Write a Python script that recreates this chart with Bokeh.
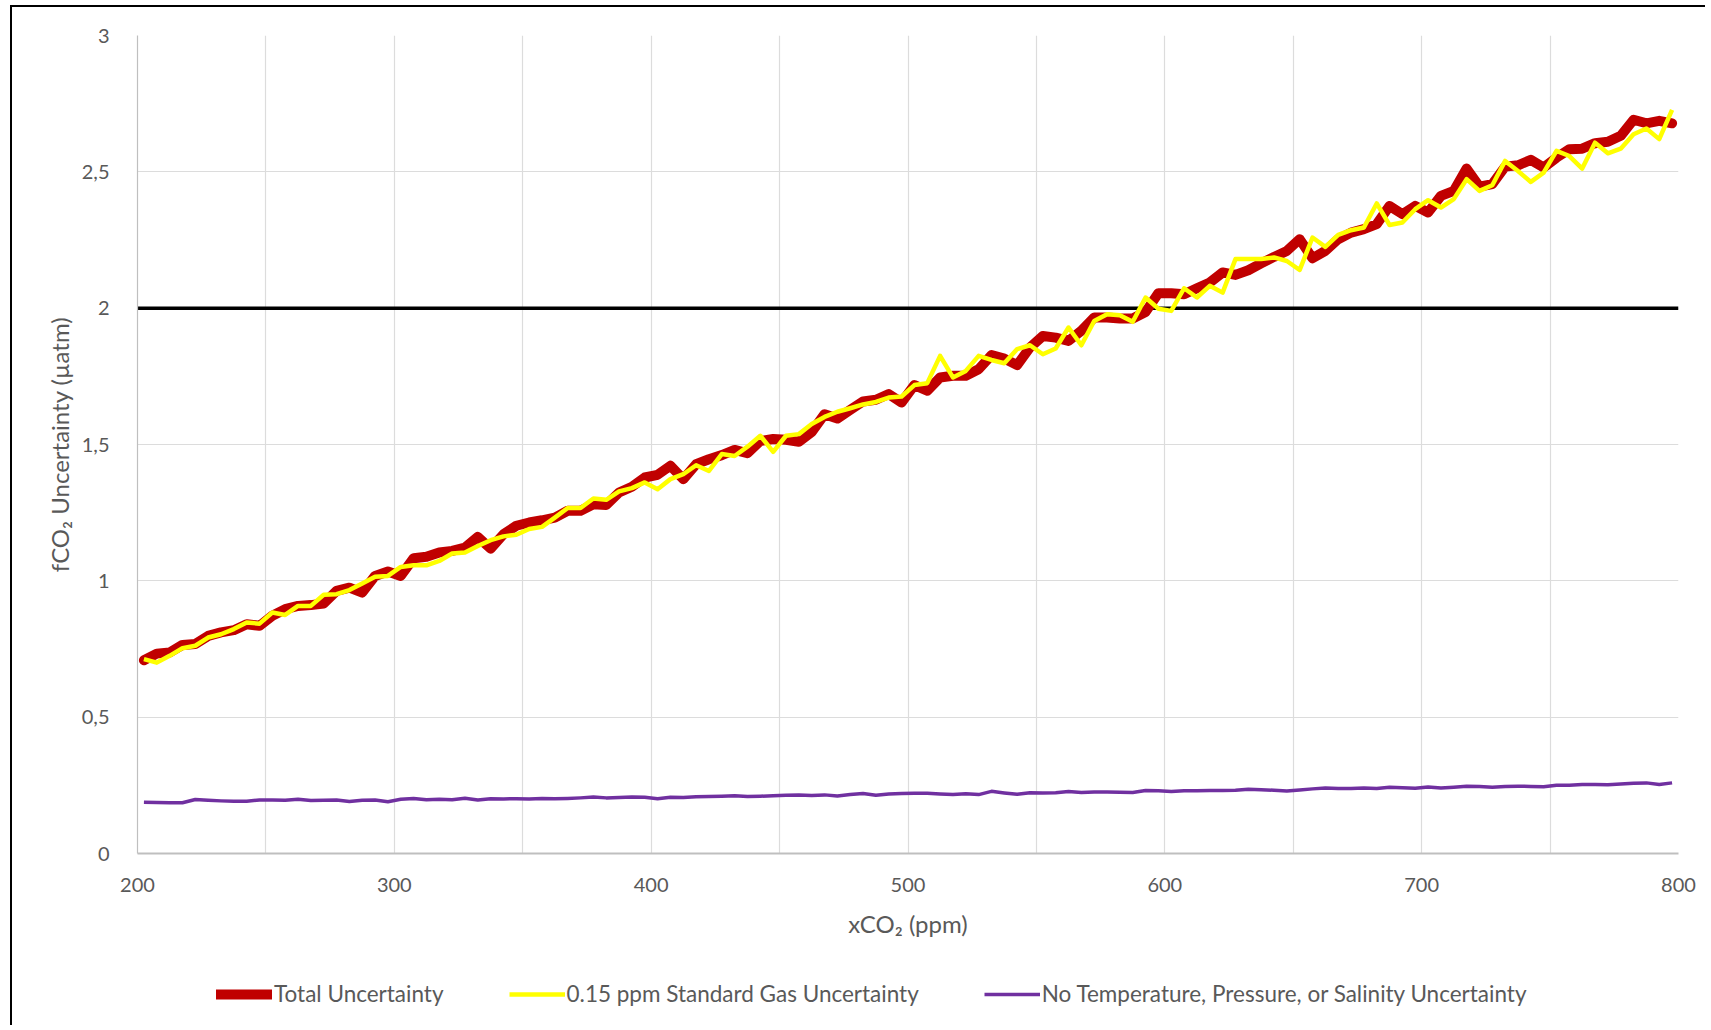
from bokeh.plotting import figure
from bokeh.layouts import column
from bokeh.models import (FixedTicker, Legend, LegendItem, Range1d,
                          CustomJSTickFormatter)
from bokeh.embed import file_html
from bokeh.resources import INLINE

# xCO2 sample points (ppm), every 5 ppm
xco2 = [202.5 + 5 * k for k in range(120)]

total_unc = [
    0.709, 0.733, 0.737, 0.765, 0.768, 0.798, 0.811, 0.819, 0.841, 0.835,
    0.872, 0.896, 0.908, 0.911, 0.917, 0.963, 0.975, 0.957, 1.018, 1.034,
    1.018, 1.083, 1.088, 1.104, 1.110, 1.122, 1.161, 1.118, 1.171, 1.202,
    1.214, 1.222, 1.232, 1.257, 1.257, 1.281, 1.278, 1.324, 1.345, 1.379,
    1.389, 1.422, 1.373, 1.428, 1.446, 1.461, 1.480, 1.468, 1.513, 1.520,
    1.517, 1.510, 1.546, 1.611, 1.595, 1.627, 1.658, 1.664, 1.685, 1.654,
    1.718, 1.697, 1.746, 1.752, 1.752, 1.776, 1.828, 1.815, 1.791, 1.856,
    1.898, 1.892, 1.880, 1.917, 1.966, 1.966, 1.962, 1.962, 1.986, 2.055,
    2.055, 2.051, 2.073, 2.094, 2.131, 2.122, 2.139, 2.164, 2.188, 2.210,
    2.253, 2.183, 2.210, 2.253, 2.277, 2.290, 2.308, 2.375, 2.345, 2.375,
    2.351, 2.412, 2.430, 2.512, 2.446, 2.455, 2.519, 2.524, 2.544, 2.516,
    2.552, 2.583, 2.585, 2.605, 2.610, 2.632, 2.691, 2.678, 2.687, 2.678,
]

std_gas_unc = [
    0.713, 0.700, 0.725, 0.753, 0.762, 0.792, 0.804, 0.823, 0.847, 0.843,
    0.884, 0.875, 0.908, 0.908, 0.949, 0.951, 0.966, 0.990, 1.015, 1.018,
    1.051, 1.057, 1.057, 1.073, 1.100, 1.104, 1.128, 1.149, 1.163, 1.169,
    1.190, 1.198, 1.232, 1.267, 1.267, 1.302, 1.297, 1.328, 1.340, 1.361,
    1.336, 1.373, 1.391, 1.424, 1.403, 1.465, 1.458, 1.492, 1.532, 1.473,
    1.532, 1.538, 1.575, 1.601, 1.620, 1.633, 1.647, 1.656, 1.672, 1.676,
    1.718, 1.725, 1.825, 1.746, 1.770, 1.825, 1.810, 1.798, 1.850, 1.864,
    1.831, 1.852, 1.929, 1.864, 1.953, 1.978, 1.974, 1.950, 2.039, 1.998,
    1.990, 2.073, 2.039, 2.082, 2.057, 2.180, 2.180, 2.180, 2.186, 2.173,
    2.140, 2.259, 2.225, 2.269, 2.286, 2.296, 2.384, 2.305, 2.314, 2.363,
    2.396, 2.369, 2.400, 2.473, 2.430, 2.451, 2.540, 2.503, 2.463, 2.497,
    2.577, 2.558, 2.512, 2.607, 2.568, 2.585, 2.638, 2.659, 2.620, 2.727,
]

no_tps_unc = [
    0.188, 0.187, 0.186, 0.186, 0.198, 0.195, 0.193, 0.192, 0.192, 0.196,
    0.196, 0.195, 0.199, 0.194, 0.195, 0.196, 0.191, 0.195, 0.196, 0.190,
    0.199, 0.202, 0.197, 0.199, 0.197, 0.203, 0.196, 0.201, 0.200, 0.201,
    0.200, 0.202, 0.201, 0.202, 0.204, 0.207, 0.204, 0.205, 0.207, 0.206,
    0.201, 0.206, 0.205, 0.208, 0.209, 0.210, 0.212, 0.209, 0.210, 0.212,
    0.214, 0.215, 0.213, 0.215, 0.211, 0.216, 0.220, 0.214, 0.218, 0.220,
    0.221, 0.221, 0.218, 0.216, 0.219, 0.216, 0.228, 0.222, 0.217, 0.223,
    0.222, 0.223, 0.227, 0.224, 0.226, 0.226, 0.225, 0.224, 0.231, 0.230,
    0.227, 0.230, 0.230, 0.231, 0.231, 0.232, 0.236, 0.234, 0.232, 0.229,
    0.233, 0.237, 0.240, 0.238, 0.238, 0.240, 0.238, 0.243, 0.241, 0.239,
    0.244, 0.240, 0.243, 0.247, 0.246, 0.243, 0.246, 0.247, 0.246, 0.245,
    0.250, 0.250, 0.253, 0.253, 0.252, 0.255, 0.258, 0.259, 0.253, 0.259,
]

# 2 µatm target line
target_x = [200, 800]
target_y = [2.0, 2.0]

x_ticks = [200, 300, 400, 500, 600, 700, 800]
x_grid = [200, 250, 300, 350, 400, 450, 500, 550, 600, 650, 700, 750, 800]
y_ticks = [0, 0.5, 1, 1.5, 2, 2.5, 3]

series_labels = [
    "Total Uncertainty",
    "0.15 ppm Standard Gas Uncertainty",
    "No Temperature, Pressure, or Salinity Uncertainty",
]

FONT = "Lato"
TEXT = "#595959"
RED, YELLOW, PURPLE = "#C00000", "#FFFF00", "#7030A0"
STYLE = [dict(line_color=RED, line_width=10, line_cap="round", line_join="round"),
         dict(line_color=YELLOW, line_width=4.5, line_join="round"),
         dict(line_color=PURPLE, line_width=3.5, line_join="round")]

p = figure(
    width=1695, height=948,
    x_range=Range1d(200, 800), y_range=Range1d(0, 3),
    output_backend="svg", toolbar_location=None,
    min_border_left=125, min_border_top=28,
    min_border_right=29, min_border_bottom=102,
)
p.margin = (5, 0, 0, 10)
p.styles = {"border-left": "2px solid #000000", "border-top": "2px solid #000000"}
p.outline_line_color = None
p.background_fill_color = "white"
p.border_fill_color = "white"

# grid
p.xgrid.ticker = FixedTicker(ticks=x_grid)
p.ygrid.ticker = FixedTicker(ticks=y_ticks)
p.xgrid.grid_line_color = "#dcdcdc"
p.ygrid.grid_line_color = "#dcdcdc"
p.xgrid.grid_line_width = 1.2
p.ygrid.grid_line_width = 1.2

# axes
p.xaxis.ticker = FixedTicker(ticks=x_ticks)
p.yaxis.ticker = FixedTicker(ticks=y_ticks)
p.yaxis.formatter = CustomJSTickFormatter(
    code="return (tick % 1 ? tick.toFixed(1) : tick.toFixed(0)).replace('.', ',');")
for ax in (p.xaxis[0], p.yaxis[0]):
    ax.major_tick_line_color = None
    ax.minor_tick_line_color = None
    ax.axis_line_color = "#bfbfbf"
    ax.major_label_text_font = FONT
    ax.major_label_text_font_size = "20px"
    ax.major_label_text_color = TEXT
    ax.axis_label_text_font = FONT
    ax.axis_label_text_font_size = "24px"
    ax.axis_label_text_font_style = "normal"
    ax.axis_label_text_color = TEXT
p.xaxis.axis_line_width = 2
p.yaxis.axis_line_width = 1.2
p.xaxis.axis_label = "xCO\u2082 (ppm)"
p.yaxis.axis_label = "fCO\u2082 Uncertainty (\u00b5atm)"
p.xaxis.major_label_standoff = 18
p.xaxis.axis_label_standoff = 14
p.yaxis.major_label_standoff = 22
p.yaxis.axis_label_standoff = 5

# target line
p.line(target_x, target_y, line_color="black", line_width=3.5)

p.line(xco2, total_unc, **STYLE[0])
p.line(xco2, std_gas_unc, **STYLE[1])
p.line(xco2, no_tps_unc, **STYLE[2])

# legend strip under the chart
leg = figure(
    width=1695, height=72, x_range=Range1d(0, 1), y_range=Range1d(0, 1),
    x_axis_type=None, y_axis_type=None,
    output_backend="svg", toolbar_location=None, min_border=0,
)
leg.margin = (0, 0, 0, 10)
leg.styles = {"border-left": "2px solid #000000"}
leg.outline_line_color = None
leg.grid.visible = False
leg_renderers = [leg.line(xco2, vals, **st)
                 for vals, st in zip((total_unc, std_gas_unc, no_tps_unc), STYLE)]

legend = Legend(
    items=[LegendItem(label=lab, renderers=[r])
           for lab, r in zip(series_labels, leg_renderers)],
    orientation="horizontal",
    location=(79, 18),
    glyph_width=56, glyph_height=22,
    label_standoff=2, spacing=65,
    padding=0, margin=0,
    border_line_color=None, background_fill_alpha=0,
    label_text_font=FONT, label_text_font_size="22.5px",
    label_text_color=TEXT, label_height=22,
)
leg.add_layout(legend, "center")

layout = column(p, leg, spacing=0)
open("out.html", "w").write(file_html(layout, INLINE))
